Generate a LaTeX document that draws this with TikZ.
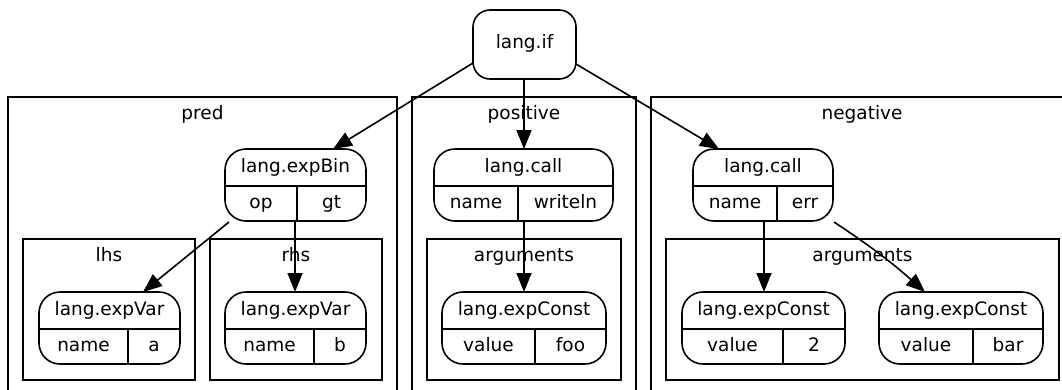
\documentclass[tikz,border=0pt]{standalone}
\usepackage{fontspec}
\setmainfont{DejaVu Sans}
\usetikzlibrary{arrows.meta,calc}
\tikzset{
  lw/.style={line width=1.6pt},
  clus/.style={draw, lw, rectangle, inner sep=0pt, outer sep=0pt},
  recbox/.style={draw, lw, rectangle, rounded corners=21pt, inner sep=0pt, outer sep=0pt},
  topbox/.style={draw, lw, rectangle, rounded corners=17pt, inner sep=0pt, outer sep=0pt},
  lbl/.style={inner sep=0pt, outer sep=0pt, font=\fontsize{18.5pt}{22pt}\selectfont},
  edge/.style={lw, -{Triangle[length=19pt,width=15pt]}},
}
\newcommand\clusterbox[6]{%
  \node[clus, minimum width={#4-#2}, minimum height={#5-#3}] (#1) at ({(#2+#4)/2},{(#3+#5)/2}) {};
  \node[lbl, anchor=base] (#1l) at ({(#2+#4)/2},{#3+22}) {#6};}
\newcommand\recnode[8]{%
  \node[recbox, minimum width={#4-#2}, minimum height=72pt] (#1) at ({(#2+#4)/2},{#3+36}) {};
  \draw[lw] (#2,{#3+37}) -- (#4,{#3+37});
  \draw[lw] (#5,{#3+37}) -- (#5,{#3+72});
  \node[lbl, anchor=base] (#1t) at ({(#2+#4)/2},{#3+23.2}) {#6};
  \node[lbl, anchor=base] (#1a) at ({(#2+#5)/2},{#3+59.2}) {#7};
  \node[lbl, anchor=base] (#1b) at ({(#5+#4)/2},{#3+59.2}) {#8};}
\begin{document}
\begin{tikzpicture}[x=1pt,y=-1pt]
\clip (0,0) rectangle (1062,389);
% clusters
\clusterbox{pred}{8}{97}{397}{420}{pred}
\clusterbox{pos}{412}{97}{636}{420}{positive}
\clusterbox{neg}{651}{97}{1073}{420}{negative}
\clusterbox{lhs}{23}{239}{195}{380}{lhs}
\clusterbox{rhs}{210}{239}{382}{380}{rhs}
\clusterbox{argp}{427}{239}{621}{380}{arguments}
\clusterbox{argn}{666}{239}{1059}{380}{arguments}
% top node
\node[topbox, minimum width=103pt, minimum height=69pt] (if) at (524.5,44.5) {};
\node[lbl, anchor=base] (ift) at (524.5,48.5) {lang.if};
% records
\recnode{expbin}{225}{149}{366}{297}{lang.expBin}{op}{gt}
\recnode{callp}{434}{149}{613}{518}{lang.call}{name}{writeln}
\recnode{calln}{693}{149}{833}{777}{lang.call}{name}{err}
\recnode{varl}{39}{292}{180}{128}{lang.expVar}{name}{a}
\recnode{varr}{225}{292}{366}{314}{lang.expVar}{name}{b}
\recnode{constp}{442}{292}{606}{535}{lang.expConst}{value}{foo}
\recnode{const2}{682}{292}{845}{783}{lang.expConst}{value}{2}
\recnode{constbar}{879}{292}{1043}{973}{lang.expConst}{value}{bar}
% edges
\draw[edge] ([yshift=-18.5pt]if.west) -- ([xshift=37.5pt]expbin.north);
\draw[edge] ([xshift=-0.5pt]if.south) -- ([xshift=-0.5pt]if.south |- callp.north);
\draw[edge] ([yshift=-19.5pt]if.east) -- ([xshift=-44pt]calln.north);
\draw[edge] ([xshift=4pt,yshift=-1pt]expbin.south west) -- ([xshift=33.5pt]varl.north);
\draw[edge] ([xshift=-0.5pt]expbin.south) -- ([xshift=-0.5pt]varr.north);
\draw[edge] ([xshift=0.5pt]callp.south) -- (constp.north);
\draw[edge] ([xshift=1pt]calln.south) -- ([xshift=1pt]calln.south |- const2.north);
\draw[edge] ([xshift=1pt,yshift=-1pt]calln.south east) to[bend left=4] ([xshift=-36pt]constbar.north);
\end{tikzpicture}
\end{document}
